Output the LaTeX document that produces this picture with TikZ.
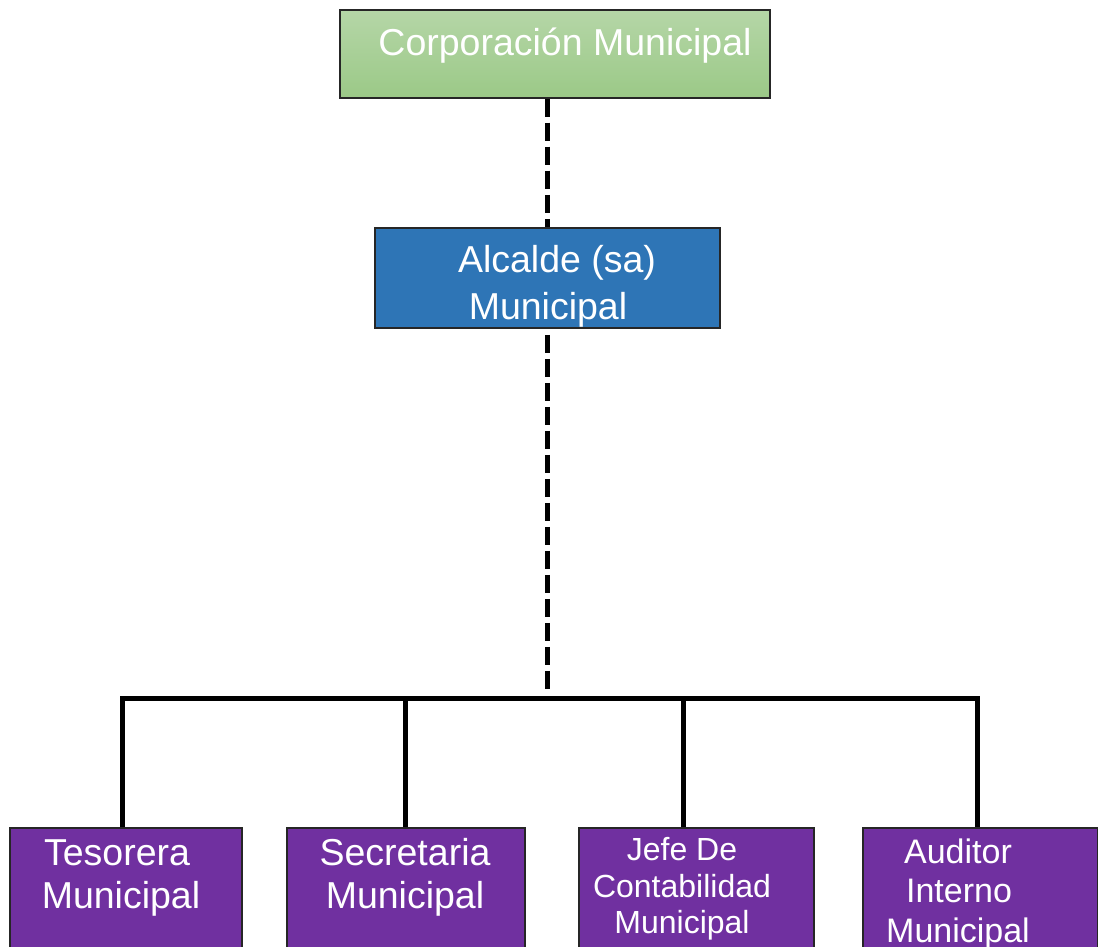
\documentclass[tikz,border=0pt]{standalone}
\usepackage{fontspec}
\setmainfont{Liberation Sans}
\begin{document}
\begin{tikzpicture}[x=1pt,y=-1pt,
  box/.style={draw=black!85, line width=1.5pt, rectangle, inner sep=0pt},
  purplebox/.style={box, fill=purp},
  lbl/.style={text=white, anchor=base, inner sep=0pt},
  bigtxt/.style={lbl, font=\fontsize{37.5}{42}\selectfont},
  midtxt/.style={lbl, font=\fontsize{34}{38}\selectfont},
  smalltxt/.style={lbl, font=\fontsize{32}{36}\selectfont},
  dashline/.style={line width=5pt, dash pattern=on 18pt off 6pt},
  barline/.style={line width=5pt}]
\definecolor{purp}{HTML}{7030A0}
\definecolor{alcblue}{HTML}{2E75B6}
\definecolor{gtop}{HTML}{B5D6A7}
\definecolor{gbot}{HTML}{9BC987}
\useasboundingbox (0,0) rectangle (1098,947);
\clip (0,0) rectangle (1098,947);
% boxes
\node[box, top color=gtop, bottom color=gbot, minimum width=430pt, minimum height=88pt] (corp) at (555,54) {};
\node[box, fill=alcblue, minimum width=345pt, minimum height=100pt] (alc) at (547.5,278) {};
\node[purplebox, minimum width=232pt, minimum height=150pt] (b1) at (126,903) {};
\node[purplebox, minimum width=238pt, minimum height=150pt] (b2) at (406,903) {};
\node[purplebox, minimum width=235pt, minimum height=150pt] (b3) at (696.5,903) {};
\node[purplebox, minimum width=235pt, minimum height=150pt] (b4) at (980.5,903) {};
% texts
\node[bigtxt] (corpt) at (565,56) {Corporación Municipal};
\node[bigtxt] (alct1) at (557,272) {Alcalde (sa)};
\node[bigtxt] (alct2) at (548,319) {Municipal};
\node[bigtxt] (t1a) at (117,865) {Tesorera};
\node[bigtxt] (t1b) at (121,908) {Municipal};
\node[bigtxt] (t2a) at (405,865) {Secretaria};
\node[bigtxt] (t2b) at (405,908) {Municipal};
\node[smalltxt] (t3a) at (682,860) {Jefe De};
\node[smalltxt] (t3b) at (682,897) {Contabilidad};
\node[smalltxt] (t3c) at (682,933) {Municipal};
\node[midtxt] (t4a) at (958,863) {Auditor};
\node[midtxt] (t4b) at (959,902) {Interno};
\node[midtxt] (t4c) at (958,942) {Municipal};
% connectors
\coordinate (bus) at (547.5,690);
\coordinate (c1) at (122,698);
\coordinate (c2) at (405,698);
\coordinate (c3) at (683,698);
\coordinate (c4) at (977,698);
\draw[dashline] (alc.north |- corp.south) -- (alc.north);
\draw[dashline, dash phase=18pt] (alc.south) -- (bus);
\draw[barline, line cap=rect] (c1) -- (c4);
\draw[barline] (c1) -- (c1 |- b1.north);
\draw[barline] (c2) -- (c2 |- b2.north);
\draw[barline] (c3) -- (c3 |- b3.north);
\draw[barline] (c4) -- (c4 |- b4.north);
\end{tikzpicture}
\end{document}
